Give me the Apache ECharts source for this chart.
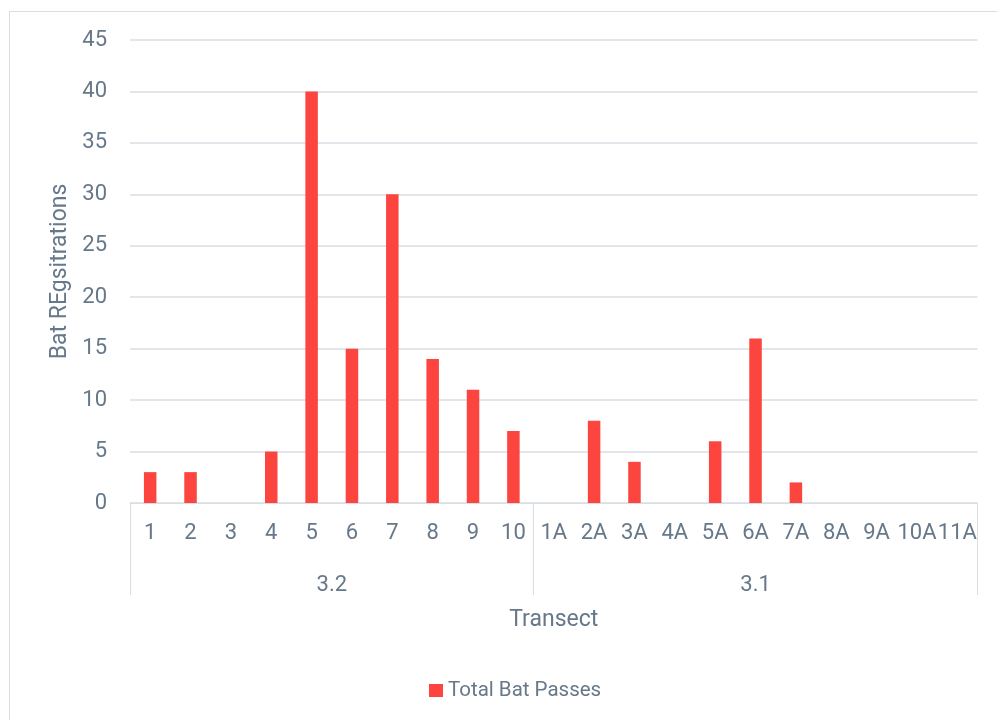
<!DOCTYPE html>
<html>
<head>
<meta charset="utf-8">
<script src="https://cdn.jsdelivr.net/npm/echarts@6/dist/echarts.min.js"></script>
<style>
  html, body { margin: 0; padding: 0; background: #fff; }
  #wrap { position: relative; width: 997px; height: 720px; overflow: hidden; }
  #frame { position: absolute; left: 9px; top: 11px; width: 1000px; height: 720px;
           border: 1px solid #d9dee3; box-sizing: border-box; }
  #chart { position: absolute; left: 0; top: 0; width: 997px; height: 720px; }
</style>
</head>
<body>
<div id="wrap">
  <div id="frame"></div>
  <div id="chart"></div>
</div>
<script>
// Transect labels (first level) and their bat pass counts
const transects = ['1','2','3','4','5','6','7','8','9','10',
                   '1A','2A','3A','4A','5A','6A','7A','8A','9A','10A','11A'];
const totalBatPasses = [3, 3, 0, 5, 40, 15, 30, 14, 11, 7,
                        0, 8, 4, 0, 6, 16, 2, 0, 0, 0, 0];

// Second-level grouping of transects
const groupNames = ['3.2', '3.1'];
const groupSizes = [10, 11];

// y axis range
const yMin = 0, yMax = 45, yStep = 5;

// group boundaries and centres along the category band scale
const boundaries = [0];
groupSizes.forEach(n => boundaries.push(boundaries[boundaries.length - 1] + n));
const centres = groupSizes.map((n, i) => boundaries[i] + n / 2);

const textColor = '#66788a';
const lineColor = '#d9dee3';
const font = 'Roboto';

const chart = echarts.init(document.getElementById('chart'), null, { renderer: 'canvas' });
chart.setOption({
  animation: false,
  grid: { left: 130, right: 19.5, top: 40, bottom: 217 },
  legend: {
    left: 424, top: 675,
    icon: 'rect', itemWidth: 14, itemHeight: 13, itemGap: 20,
    textStyle: { color: textColor, fontFamily: font, fontSize: 20.5 }
  },
  xAxis: [
    {
      type: 'category',
      data: transects,
      boundaryGap: true,
      axisLine: { show: true, lineStyle: { color: lineColor, width: 1 } },
      axisTick: { show: false },
      axisLabel: { color: textColor, fontFamily: font, fontSize: 22, margin: 19, interval: 0 },
      splitLine: { show: false }
    },
    {
      type: 'value',
      position: 'bottom',
      min: 0, max: boundaries[boundaries.length - 1],
      axisLine: { show: false },
      splitLine: { show: false },
      axisTick: {
        show: true, inside: false, length: 92,
        customValues: boundaries,
        lineStyle: { color: lineColor, width: 1 }
      },
      axisLabel: {
        show: true, margin: 71,
        customValues: centres,
        color: textColor, fontFamily: font, fontSize: 22,
        formatter: v => groupNames[centres.indexOf(v)] || ''
      },
      name: 'Transect',
      nameLocation: 'middle',
      nameGap: 106,
      nameTextStyle: { color: textColor, fontFamily: font, fontSize: 23 }
    }
  ],
  yAxis: {
    type: 'value',
    min: yMin, max: yMax, interval: yStep,
    axisLine: { show: false },
    axisTick: { show: false },
    axisLabel: { color: textColor, fontFamily: font, fontSize: 22, margin: 23 },
    splitLine: { show: true, lineStyle: { color: lineColor, width: 1.5 } },
    name: 'Bat REgsitrations',
    nameLocation: 'middle',
    nameGap: 56,
    nameTextStyle: { color: textColor, fontFamily: font, fontSize: 23 }
  },
  series: [
    {
      name: 'Total Bat Passes',
      type: 'bar',
      xAxisIndex: 0,
      data: totalBatPasses,
      barWidth: '31%',
      itemStyle: { color: '#fd4540' }
    }
  ]
});
</script>
</body>
</html>
